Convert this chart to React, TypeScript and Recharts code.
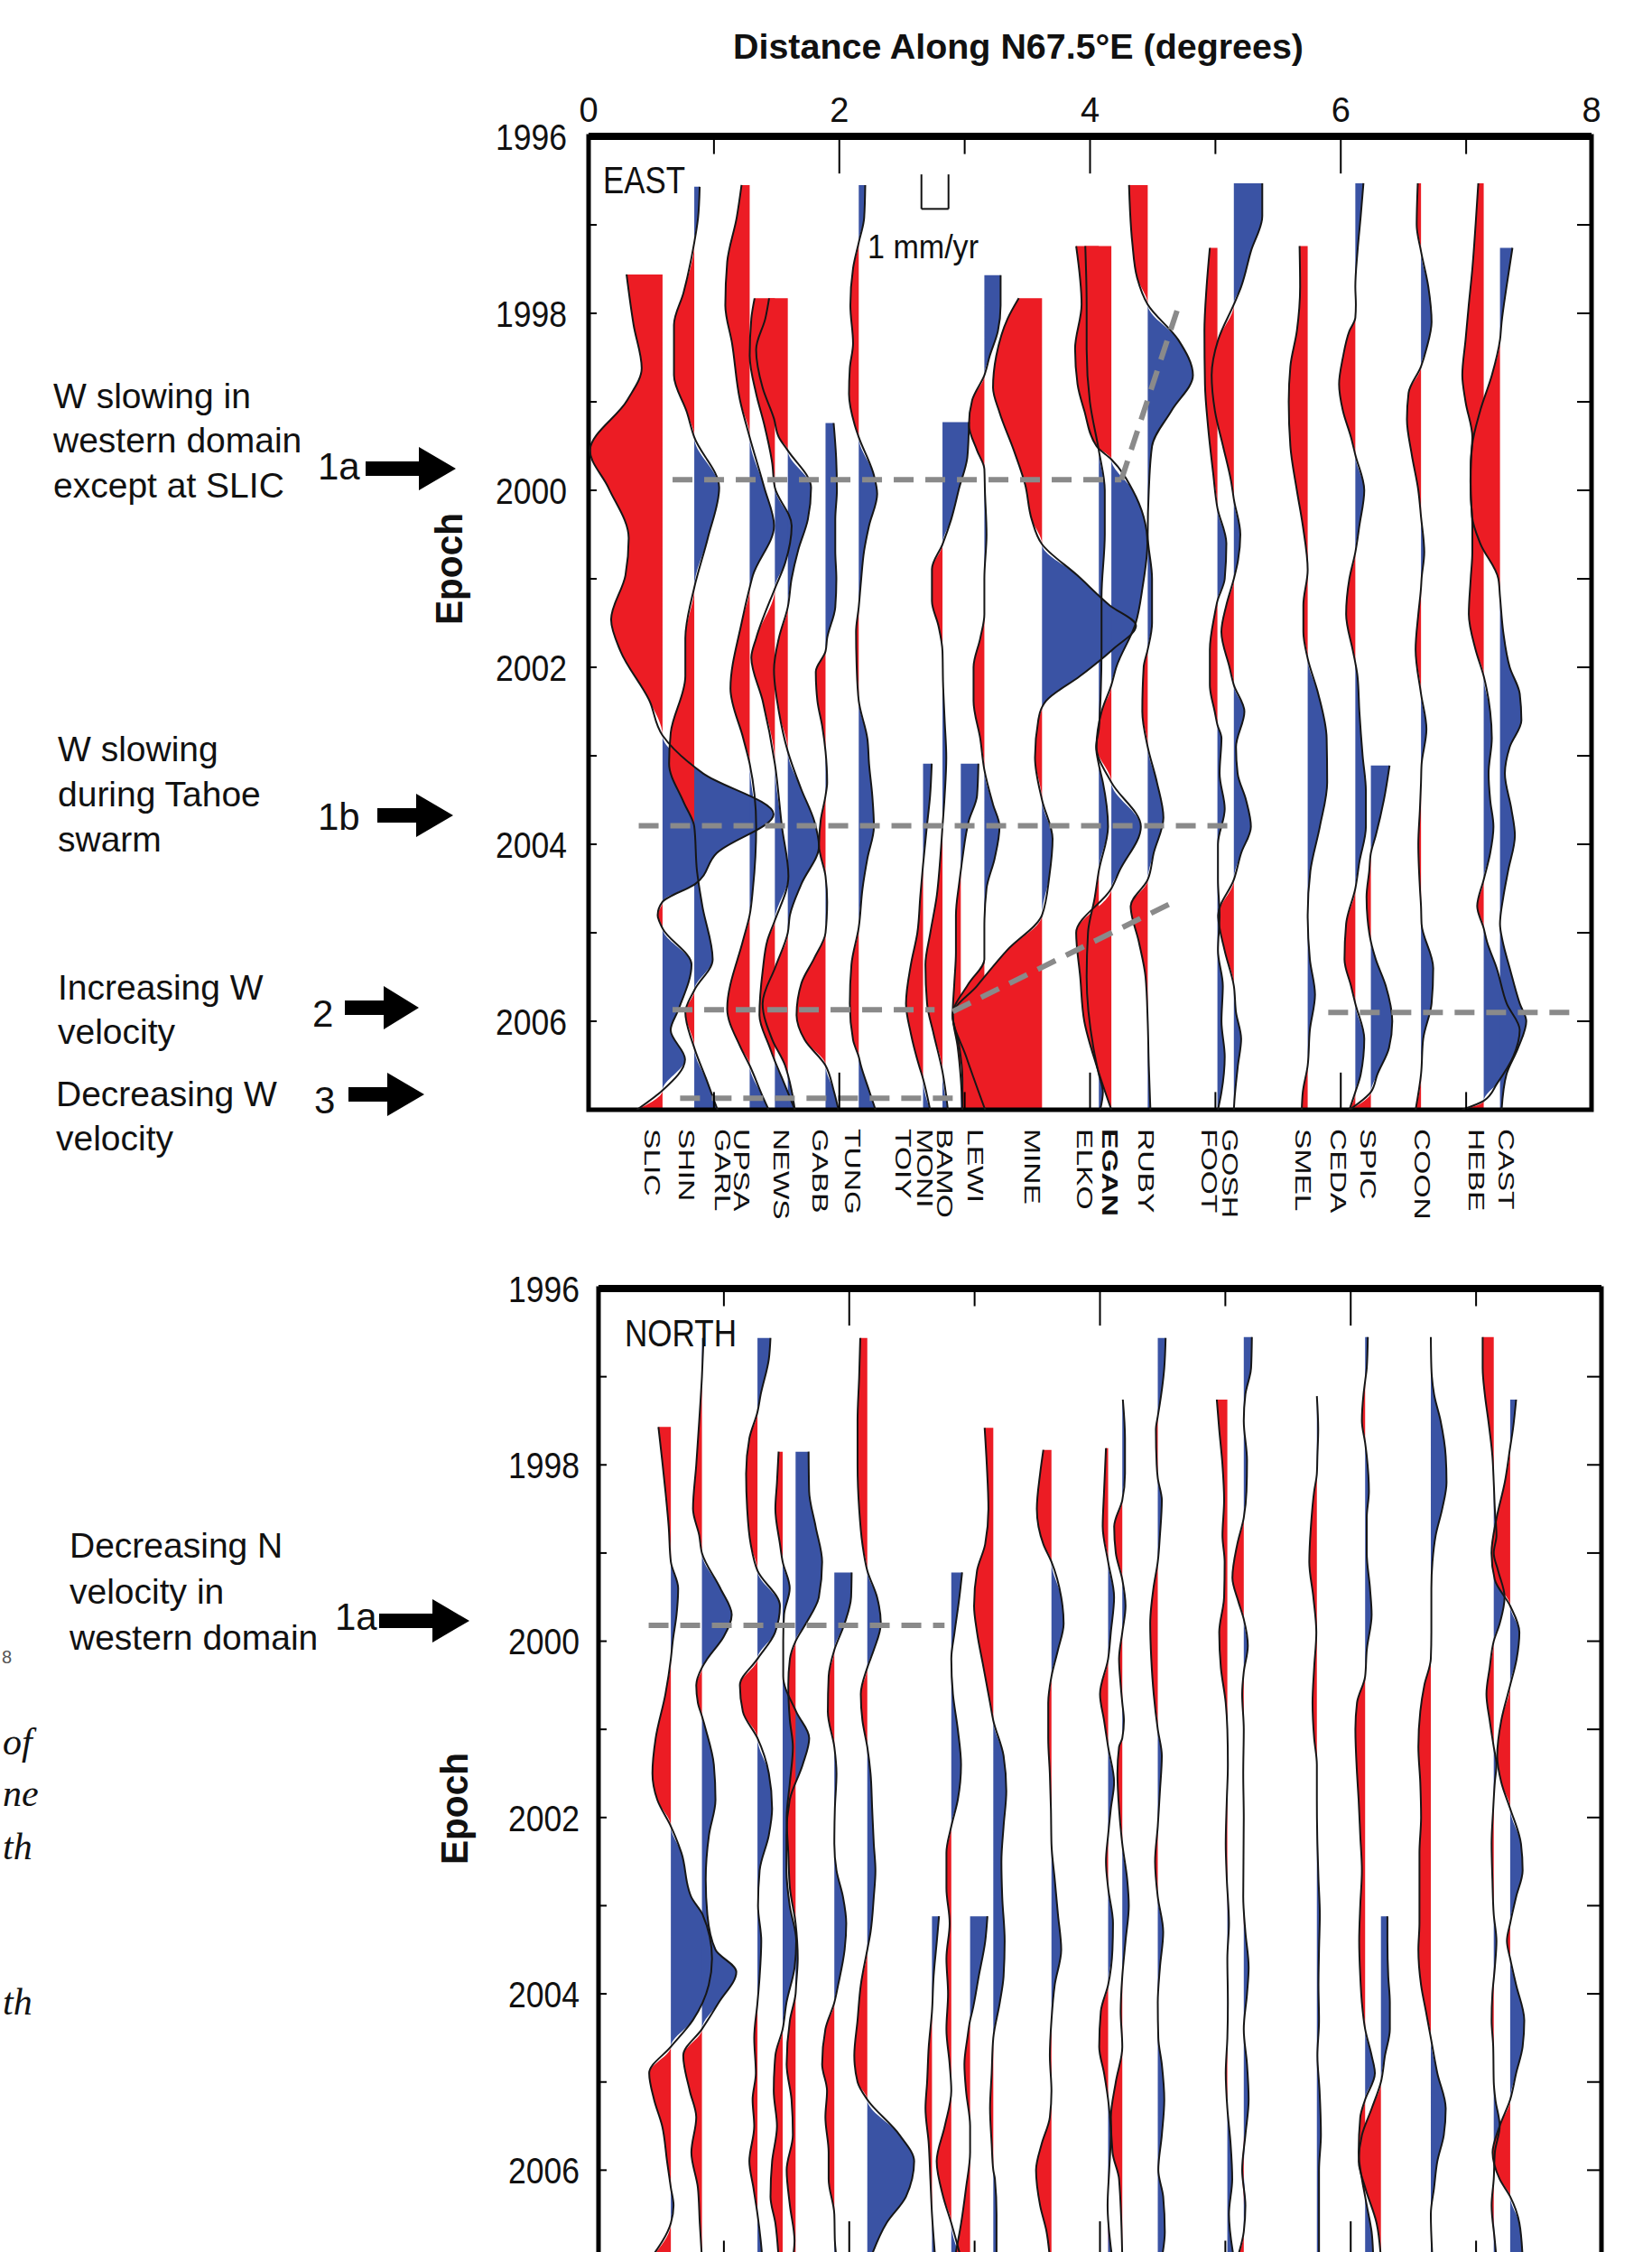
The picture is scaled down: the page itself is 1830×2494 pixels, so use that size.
import React from "react";
import {
  Area,
  ComposedChart,
  Line,
  ReferenceArea,
  ReferenceLine,
  XAxis,
  YAxis,
} from "recharts";

// width of 1 mm/yr on the distance axis, in degrees (the scale bar)
const MM = 0.216;

const STATIONS = ["SLIC", "SHIN", "GARL", "UPSA", "NEWS", "GABB", "TUNG", "TOIY", "MONI", "BAMO", "LEWI", "MINE", "ELKO", "EGAN", "RUBY", "FOOT", "GOSH", "SMEL", "CEDA", "SPIC", "COON", "HEBE", "CAST"];
const LABEL_POS = [0.51, 0.78, 1.07, 1.22, 1.54, 1.85, 2.11, 2.51, 2.68, 2.84, 3.09, 3.54, 3.96, 4.16, 4.45, 4.95, 5.12, 5.7, 5.98, 6.22, 6.65, 7.08, 7.32];

const EAST_BASE = [0.59, 0.843, 1.285, 1.486, 1.589, 1.89, 2.155, 2.668, 2.823, 2.969, 3.157, 3.617, 4.07, 4.17, 4.46, 5.016, 5.147, 5.736, 6.116, 6.24, 6.64, 7.14, 7.27];
const NORTH_BASE = [0.577, 0.825, 1.268, 1.469, 1.572, 1.881, 2.144, 2.66, 2.814, 2.964, 3.149, 3.613, 4.065, 4.178, 4.461, 5.016, 5.147, 5.73, 6.115, 6.241, 6.639, 7.141, 7.272];

// [epoch, residual velocity mm/yr]
const E_SLIC = [[1997.56,-1.33],[1998.13,-1.07],[1998.62,-0.77],[1998.98,-1.3],[1999.55,-2.68],[1999.97,-2.0],[2000.54,-1.25],[2000.96,-1.37],[2001.46,-1.9],[2001.82,-1.55],[2002.38,-0.48],[2002.77,0],[2003.2,1.5],[2003.66,4.1],[2004.1,2.0],[2004.45,1.2],[2004.65,0],[2004.8,-0.18],[2004.95,0],[2005.36,1.07],[2005.86,0.6],[2006.1,0.3],[2006.43,0.83],[2006.78,0],[2007,-0.95]];
const E_SHIN = [[1996.57,0.2],[1996.92,0.14],[1997.2,0],[1997.77,-0.4],[1998.13,-0.75],[1998.7,-0.75],[1999.12,-0.27],[1999.4,0],[1999.97,0.92],[2000.54,0.5],[2001.1,0],[2001.67,-0.33],[2002.1,-0.33],[2002.74,-0.87],[2003.09,-0.93],[2003.52,-0.4],[2003.8,0],[2004.3,0.1],[2004.7,0.3],[2005.3,0.68],[2005.65,0],[2005.9,-0.33],[2006.3,0],[2006.7,0.5],[2007,0.86]];
const E_GARL = [[1996.55,-0.3],[1996.92,-0.48],[1997.42,-0.83],[1997.91,-0.9],[1998.34,-0.65],[1998.98,-0.36],[1999.4,0],[1999.97,0.54],[2000.4,0.9],[2000.96,0.12],[2001.1,0],[2001.5,-0.3],[2002.24,-0.71],[2002.8,-0.24],[2003.09,0],[2003.8,0.24],[2004.5,0.12],[2004.8,0],[2005.08,-0.24],[2005.86,-0.83],[2006.28,-0.36],[2006.5,0],[2006.85,0.48],[2007,0.7]];
const E_UPSA = [[1997.83,-0.75],[1998.06,-0.87],[1998.48,-0.93],[1998.91,-0.69],[1999.26,-0.39],[1999.69,-0.1],[1999.97,0],[2000.4,0.62],[2000.82,0.38],[2001.11,0],[2001.67,-0.69],[2001.89,-0.87],[2002.38,-0.45],[2003.09,0],[2003.8,0.26],[2004.36,0.5],[2004.86,0],[2005.08,-0.27],[2005.43,-0.45],[2005.93,-0.57],[2006.28,-0.21],[2006.45,0],[2006.64,0.26],[2007,0.74]];
const E_NEWS = [[1997.83,-0.69],[1998.06,-0.83],[1998.41,-1.17],[1998.84,-0.93],[1999.19,-0.51],[1999.4,-0.33],[1999.55,0],[1999.97,0.86],[2000.33,0.74],[2000.68,0.38],[2001.0,0.14],[2001.32,0],[2001.67,-0.33],[2002.03,-0.51],[2002.5,-0.33],[2002.95,0],[2003.38,0.5],[2003.74,0.98],[2004.02,1.15],[2004.45,0.5],[2004.8,0.08],[2005.0,0],[2005.38,-0.45],[2005.8,-0.93],[2006.21,-0.57],[2006.5,-0.1],[2006.6,0],[2006.78,0.14],[2007,0.26]];
const E_GABB = [[1999.24,0.3],[1999.62,0.39],[2000.0,0.42],[2000.33,0.36],[2000.68,0.36],[2001.0,0.4],[2001.32,0.36],[2001.67,0.06],[2001.82,0],[2002.05,-0.36],[2002.38,-0.3],[2002.67,-0.12],[2002.95,0],[2003.3,0.06],[2003.45,0],[2003.73,-0.18],[2004.01,-0.24],[2004.36,0],[2004.65,0.06],[2005.0,0],[2005.29,-0.42],[2005.57,-0.89],[2005.93,-1.07],[2006.21,-0.77],[2006.5,0],[2006.78,0.3],[2007,0.48]];
const E_TUNG = [[1996.55,0.24],[1996.92,0.2],[1997.2,0],[1997.49,-0.21],[1997.91,-0.31],[1998.34,-0.21],[1998.62,-0.33],[1998.91,-0.36],[1999.26,-0.15],[1999.4,0],[1999.83,0.56],[2000.04,0.68],[2000.4,0.38],[2000.68,0.2],[2001.04,0.08],[2001.32,0],[2001.6,-0.1],[2001.96,-0.08],[2002.38,0],[2002.81,0.32],[2003.09,0.38],[2003.45,0.5],[2003.8,0.56],[2004.16,0.32],[2004.5,0.14],[2004.94,0],[2005.36,-0.27],[2005.8,-0.33],[2006.21,-0.21],[2006.4,0],[2006.5,0.08],[2006.78,0.38],[2007,0.62]];
const E_TOIY = [[2003.09,0.32],[2003.45,0.26],[2003.8,0.14],[2004.23,0],[2004.58,-0.1],[2005.0,-0.21],[2005.36,-0.45],[2005.8,-0.63],[2006.14,-0.45],[2006.5,-0.15],[2006.65,0],[2007,0.26]];
const E_MONI = [[1999.23,0.98],[1999.62,0.92],[1999.97,0.62],[2000.33,0.32],[2000.61,0],[2000.89,-0.39],[2001.25,-0.39],[2001.53,-0.15],[2001.82,0],[2002.17,0.02],[2002.6,0.08],[2003.02,0.14],[2003.45,0.08],[2003.8,0],[2004.23,-0.1],[2004.58,-0.21],[2005.0,-0.45],[2005.36,-0.63],[2005.8,-0.57],[2006.14,-0.33],[2006.57,0],[2007,0.2]];
const E_BAMO = [[2003.09,0.65],[2003.45,0.6],[2003.73,0.3],[2004.16,0.06],[2004.3,0],[2004.44,-0.06],[2004.8,-0.18],[2005.22,-0.18],[2005.57,-0.24],[2005.93,-0.3],[2006.28,-0.12],[2006.65,0],[2007,0.06]];
const E_LEWI = [[1997.57,0.6],[1997.91,0.6],[1998.2,0.5],[1998.48,0.2],[1998.7,0],[1998.98,-0.45],[1999.26,-0.57],[1999.55,-0.27],[1999.76,0],[2000.0,0.02],[2000.5,0.08],[2001.0,0],[2001.4,0],[2001.67,-0.15],[2002.0,-0.4],[2002.38,-0.4],[2002.81,-0.15],[2003.16,0],[2003.55,0.32],[2003.8,0.56],[2004.16,0.38],[2004.5,0.08],[2004.94,0],[2005.3,0],[2005.57,-0.57],[2005.93,-1.17],[2006.28,-0.93],[2006.65,-0.81],[2007,-0.81]];
const E_MINE = [[1997.83,-0.86],[1998.06,-1.27],[1998.48,-1.69],[1998.84,-1.81],[1999.12,-1.57],[1999.55,-1.04],[1999.94,-0.62],[2000.33,-0.38],[2000.61,0],[2000.96,1.3],[2001.3,2.5],[2001.53,3.47],[2001.8,2.6],[2002.1,1.4],[2002.38,0.15],[2002.45,0],[2002.6,-0.14],[2003.02,-0.26],[2003.5,0],[2003.94,0.39],[2004.36,0.27],[2004.8,0],[2005.2,-1.3],[2005.6,-2.4],[2005.93,-3.3],[2006.4,-2.8],[2007,-2.1]];
const E_ELKO = [[1997.24,-0.5],[1997.9,-0.45],[1998.4,-0.45],[1999.0,-0.33],[1999.55,0],[2000.0,0.22],[2000.5,0.22],[2001.2,0.1],[2001.8,0.1],[2002.5,0.04],[2002.7,0],[2002.9,-0.1],[2003.1,0],[2003.3,0.15],[2003.8,0.34],[2004.3,0],[2004.6,-0.15],[2005.0,-0.4],[2005.5,-0.45],[2006.3,-0.2],[2006.6,0],[2006.8,0.15],[2007,0.05]];
const E_EGAN = [[1997.24,-1.3],[1997.9,-1.1],[1998.4,-1.34],[1998.8,-1.25],[1999.1,-1.0],[1999.5,-0.55],[1999.65,0],[2000.0,0.79],[2000.6,1.33],[2001.1,1.15],[2001.5,0.9],[2002.0,0.18],[2002.2,0],[2002.5,-0.36],[2002.9,-0.55],[2003.3,0],[2003.8,1.09],[2004.3,0.3],[2004.5,0],[2005.0,-1.3],[2005.5,-1.15],[2006.0,-1.0],[2006.5,-0.55],[2007,0]];
const E_RUBY = [[1996.55,-0.69],[1997.2,-0.57],[1997.6,-0.39],[1997.9,0],[1998.3,1.13],[1998.7,1.67],[1999.1,0.88],[1999.5,0.16],[2000.0,0.04],[2000.5,0],[2001.0,0.16],[2001.5,0.16],[2001.8,0],[2002.0,-0.15],[2002.5,-0.2],[2002.9,0],[2003.3,0.34],[2003.7,0.58],[2004.1,0.22],[2004.4,0],[2004.7,-0.63],[2005.1,-0.33],[2005.5,-0.08],[2006.0,0],[2006.5,0.04],[2007,0.1]];
const E_FOOT = [[1997.26,-0.28],[1997.7,-0.4],[1998.2,-0.48],[1998.8,-0.46],[1999.3,-0.34],[1999.8,-0.16],[2000.2,0],[2000.6,0.33],[2001.0,0.27],[2001.25,0],[2001.4,-0.1],[2001.8,-0.28],[2002.2,-0.28],[2002.5,-0.1],[2002.65,0],[2002.8,0.15],[2003.2,0.08],[2003.6,0.27],[2004.0,0.02],[2004.4,0.02],[2004.8,0.08],[2005.2,0.02],[2005.6,0.2],[2006.0,0.15],[2006.4,0.27],[2006.8,0.15],[2007,0.02]];
const E_GOSH = [[1996.53,1.05],[1996.9,1.05],[1997.3,0.63],[1997.7,0.27],[1997.9,0],[1998.3,-0.58],[1998.7,-0.82],[1999.1,-0.7],[1999.5,-0.4],[1999.9,-0.1],[2000.1,0],[2000.5,0.24],[2000.8,0.15],[2001.0,0],[2001.3,-0.28],[2001.6,-0.46],[2002.0,-0.16],[2002.2,0],[2002.5,0.39],[2002.9,0.08],[2003.2,0.14],[2003.5,0.45],[2003.8,0.63],[2004.1,0.27],[2004.4,0],[2004.8,-0.58],[2005.2,-0.34],[2005.6,0],[2005.9,0.08],[2006.2,0.27],[2006.5,0.15],[2006.9,0.02],[2007,0]];
const E_SMEL = [[1997.24,-0.3],[1997.7,-0.28],[1998.2,-0.4],[1998.6,-0.64],[1999.0,-0.7],[1999.5,-0.64],[2000.0,-0.4],[2000.4,-0.18],[2000.9,0],[2001.3,-0.16],[2001.6,-0.16],[2001.9,0],[2002.3,0.39],[2002.8,0.7],[2003.3,0.72],[2003.8,0.45],[2004.3,0.1],[2004.8,0],[2005.3,0.08],[2005.7,0.27],[2006.1,0.08],[2006.5,0],[2006.8,-0.18],[2007,-0.22]];
const E_CEDA = [[1996.53,0.3],[1996.9,0.2],[1997.3,0.08],[1997.7,0],[1997.9,0.02],[1998.05,0],[1998.2,-0.22],[1998.5,-0.46],[1998.8,-0.6],[1999.1,-0.46],[1999.4,-0.16],[1999.6,0],[2000.0,0.33],[2000.4,0.15],[2000.7,0],[2001.0,-0.22],[2001.4,-0.34],[2001.8,-0.1],[2001.95,0],[2002.1,0.08],[2002.5,0.15],[2003.0,0.27],[2003.4,0.39],[2003.8,0.39],[2004.2,0.15],[2004.5,0],[2004.9,-0.34],[2005.3,-0.4],[2005.6,-0.16],[2005.8,0],[2006.2,0.33],[2006.6,0.2],[2006.8,0],[2007,-0.22]];
const E_SPIC = [[2003.11,0.69],[2003.5,0.48],[2003.9,0.18],[2004.1,0],[2004.3,-0.06],[2004.6,-0.16],[2005.0,-0.06],[2005.1,0],[2005.3,0.18],[2005.6,0.55],[2006.0,0.79],[2006.3,0.67],[2006.6,0.24],[2006.8,0],[2007,-0.79]];
const E_COON = [[1996.53,-0.12],[1997.0,-0.16],[1997.3,0],[1997.7,0.27],[1998.1,0.39],[1998.4,0.2],[1998.6,0],[1998.9,-0.46],[1999.2,-0.52],[1999.6,-0.34],[2000.0,-0.1],[2000.3,0],[2000.7,0.12],[2001.0,0.02],[2001.1,0],[2001.4,-0.1],[2001.8,-0.2],[2002.3,0],[2002.7,0.2],[2003.1,0.02],[2003.3,0],[2003.6,-0.04],[2004.0,-0.1],[2004.5,-0.04],[2004.7,0],[2004.9,0.02],[2005.4,0.45],[2005.8,0.39],[2006.2,0.08],[2006.6,0],[2007,-0.2]];
const E_HEBE = [[1996.53,-0.2],[1997.0,-0.3],[1997.5,-0.42],[1997.9,-0.55],[1998.3,-0.67],[1998.7,-0.79],[1999.0,-0.67],[1999.4,-0.42],[1999.7,-0.48],[2000.0,-0.48],[2000.4,-0.42],[2000.7,-0.42],[2001.0,-0.48],[2001.4,-0.55],[2001.8,-0.3],[2002.1,0],[2002.5,0.24],[2002.8,0.3],[2003.2,0.18],[2003.5,0.24],[2003.8,0.36],[2004.1,0.24],[2004.4,0],[2004.7,-0.24],[2004.95,0],[2005.1,0.12],[2005.4,0.48],[2005.8,0.85],[2006.1,1.33],[2006.4,1.09],[2006.7,0.5],[2006.9,0],[2007,-0.8]];
const E_CAST = [[1997.26,0.46],[1997.7,0.24],[1998.1,0.06],[1998.3,0],[1998.7,-0.3],[1999.1,-0.73],[1999.5,-1.03],[1999.9,-1.09],[2000.3,-1.03],[2000.6,-0.73],[2001.0,-0.06],[2001.2,0],[2001.6,0.12],[2002.0,0.36],[2002.3,0.73],[2002.6,0.79],[2002.9,0.36],[2003.2,0.18],[2003.6,0.42],[2003.9,0.55],[2004.3,0.3],[2004.6,0.12],[2004.9,0],[2005.1,0.1],[2005.4,0.36],[2005.8,0.73],[2006.0,0.97],[2006.3,0.67],[2006.6,0.24],[2007,0.06]];

const N_SLIC = [[1997.57,-0.46],[1997.95,-0.32],[1998.3,-0.2],[1998.7,-0.08],[1999.1,0],[1999.4,0.27],[1999.7,0.21],[2000.0,0.07],[2000.2,0],[2000.6,-0.2],[2001.1,-0.56],[2001.5,-0.68],[2001.8,-0.5],[2002.1,0],[2002.4,0.39],[2002.9,0.75],[2003.1,1.17],[2003.6,1.52],[2003.9,1.4],[2004.3,0.81],[2004.6,0],[2004.9,-0.8],[2005.2,-0.62],[2005.5,-0.32],[2005.9,-0.14],[2006.2,0],[2006.4,0.1],[2006.6,0],[2007,-0.74]];
const N_SHIN = [[1996.56,0.06],[1997.0,0],[1997.5,-0.1],[1998.0,-0.21],[1998.5,-0.33],[1998.8,-0.1],[1999.0,0],[1999.4,0.68],[1999.7,1.1],[1999.95,0.8],[2000.2,0.2],[2000.3,0],[2000.5,-0.21],[2000.7,-0.15],[2000.85,0],[2001.0,0.14],[2001.4,0.44],[2001.8,0.5],[2002.2,0.26],[2002.7,0.14],[2003.1,0.2],[2003.5,0.5],[2003.75,1.27],[2004.1,0.62],[2004.4,0],[2004.7,-0.69],[2005.1,-0.45],[2005.4,-0.21],[2005.8,-0.39],[2006.2,-0.15],[2006.6,-0.08],[2007,0]];
const N_GARL = [[1996.56,0.48],[1996.8,0.42],[1997.2,0.12],[1997.4,0],[1997.7,-0.3],[1998.1,-0.42],[1998.5,-0.38],[1998.9,-0.25],[1999.2,0],[1999.6,0.83],[1999.9,0.65],[2000.2,0],[2000.5,-0.65],[2000.8,-0.54],[2001.1,0],[2001.5,0.42],[2001.9,0.54],[2002.2,0.42],[2002.6,0.08],[2003.0,0.02],[2003.4,0.14],[2003.8,0.08],[2004.1,0],[2004.5,-0.12],[2004.9,-0.06],[2005.2,-0.18],[2005.5,-0.12],[2005.9,-0.3],[2006.2,-0.15],[2006.5,0],[2006.8,0.12],[2007,0.18]];
const N_UPSA = [[1997.85,-0.15],[1998.2,-0.21],[1998.5,-0.27],[1998.9,-0.1],[1999.1,0],[1999.4,0.26],[1999.7,0.05],[2000.0,0.02],[2000.4,0.02],[2000.8,0.5],[2001.1,0.98],[2001.4,0.74],[2001.8,0.26],[2002.2,0.14],[2002.6,0.14],[2003.0,0.26],[2003.4,0.5],[2003.7,0.44],[2004.1,0.14],[2004.4,0],[2004.7,-0.27],[2005.1,-0.33],[2005.5,-0.21],[2005.9,-0.39],[2006.3,-0.45],[2006.6,-0.27],[2007,-0.15]];
const N_NEWS = [[1997.85,0.48],[1998.3,0.5],[1998.7,0.74],[1999.1,0.98],[1999.5,0.86],[1999.8,0.38],[2000.0,0],[2000.2,-0.21],[2000.5,-0.27],[2000.9,-0.21],[2001.2,-0.1],[2001.6,-0.21],[2002.0,-0.33],[2002.4,-0.27],[2002.8,-0.21],[2003.2,0],[2003.6,0.08],[2003.9,0.02],[2004.0,0],[2004.3,-0.21],[2004.8,-0.33],[2005.2,-0.15],[2005.6,-0.1],[2006.0,-0.33],[2006.4,-0.21],[2006.8,-0.04],[2007,-0.1]];
const N_GABB = [[1999.22,0.64],[1999.5,0.62],[1999.8,0.38],[2000.1,0],[2000.4,-0.21],[2000.8,-0.24],[2001.2,0],[2001.5,0.08],[2001.9,0.02],[2002.3,0],[2002.6,0.08],[2002.9,0.32],[2003.2,0.44],[2003.5,0.38],[2003.9,0.14],[2004.1,0],[2004.4,-0.33],[2004.8,-0.45],[2005.1,-0.27],[2005.4,-0.33],[2005.8,-0.21],[2006.1,-0.21],[2006.5,0],[2006.8,0.02],[2007,0.08]];
const N_TUNG = [[1996.56,-0.26],[1997.0,-0.3],[1997.5,-0.36],[1998.0,-0.36],[1998.5,-0.3],[1998.9,-0.18],[1999.2,0],[1999.5,0.36],[1999.8,0.5],[2000.1,0.24],[2000.3,0],[2000.6,-0.24],[2000.9,-0.18],[2001.2,0],[2001.5,0.12],[2001.9,0.18],[2002.3,0.24],[2002.6,0.3],[2002.9,0.24],[2003.3,0.12],[2003.5,0],[2003.9,-0.24],[2004.3,-0.36],[2004.7,-0.48],[2005.0,-0.36],[2005.2,0],[2005.6,1.19],[2005.9,1.73],[2006.3,1.43],[2006.6,0.71],[2007,0.12]];
const N_TOIY = [[2003.12,0.26],[2003.4,0.18],[2003.8,0.06],[2004.2,0],[2004.6,-0.12],[2005.0,-0.18],[2005.3,-0.24],[2005.7,-0.12],[2006.1,-0.06],[2006.5,0],[2007,0.12]];
const N_MONI = [[1999.22,0.4],[1999.5,0.3],[1999.9,0.12],[2000.2,0],[2000.6,0.06],[2001.0,0.24],[2001.4,0.36],[2001.8,0.24],[2002.1,0],[2002.4,-0.18],[2002.8,-0.18],[2003.2,-0.06],[2003.6,-0.18],[2004.0,-0.12],[2004.4,-0.18],[2004.8,-0.06],[2005.1,0],[2005.5,-0.24],[2005.9,-0.54],[2006.3,-0.3],[2006.6,0],[2007,0.36]];
const N_BAMO = [[2003.12,0.64],[2003.4,0.56],[2003.8,0.32],[2004.2,0.08],[2004.3,0],[2004.5,-0.1],[2004.8,-0.21],[2005.1,-0.15],[2005.5,0],[2005.8,0],[2006.2,-0.15],[2006.6,-0.33],[2007,-0.57]];
const N_LEWI = [[1997.58,-0.32],[1998.0,-0.24],[1998.5,-0.18],[1998.9,-0.3],[1999.2,-0.6],[1999.6,-0.71],[1999.9,-0.6],[2000.3,-0.36],[2000.7,-0.12],[2000.9,0],[2001.3,0.38],[2001.7,0.48],[2002.1,0.38],[2002.5,0.3],[2002.9,0.33],[2003.4,0.42],[2003.8,0.38],[2004.1,0.24],[2004.5,0],[2004.9,-0.06],[2005.3,-0.12],[2005.7,-0.06],[2006.0,0],[2006.1,0.06],[2006.5,0.12],[2007,0.12]];
const N_MINE = [[1997.83,-0.3],[1998.1,-0.42],[1998.5,-0.54],[1998.9,-0.3],[1999.1,0],[1999.5,0.36],[1999.8,0.45],[2000.1,0.24],[2000.4,0],[2000.7,-0.12],[2001.1,-0.12],[2001.5,-0.06],[2001.9,-0.02],[2002.3,0],[2002.7,0.12],[2003.1,0.24],[2003.5,0.36],[2003.9,0.12],[2004.3,0],[2004.7,-0.06],[2005.1,0],[2005.4,-0.06],[2005.7,-0.36],[2006.0,-0.57],[2006.4,-0.42],[2006.7,-0.18],[2007,-0.06]];
const N_ELKO = [[1997.81,-0.08],[1998.3,-0.15],[1998.7,-0.2],[1999.1,0],[1999.5,0.22],[1999.9,0.1],[2000.2,0],[2000.6,-0.3],[2000.9,-0.15],[2001.2,0],[2001.6,0.22],[2001.9,0.1],[2002.2,0],[2002.5,-0.08],[2002.8,0],[2003.2,0.18],[2003.5,0.16],[2003.9,0],[2004.2,-0.27],[2004.6,-0.33],[2004.9,-0.15],[2005.2,0],[2005.6,0.1],[2006.0,0.04],[2006.4,-0.02],[2007,0.15]];
const N_EGAN = [[1997.26,0.02],[1997.7,0.1],[1998.1,0.1],[1998.4,0],[1998.7,-0.3],[1999.0,-0.24],[1999.3,0],[1999.6,0.12],[1999.9,0],[2000.2,-0.12],[2000.5,-0.06],[2000.7,0],[2000.9,0.06],[2001.1,0],[2001.2,-0.12],[2001.5,-0.18],[2001.9,-0.12],[2002.3,0],[2002.7,0.18],[2003.0,0.24],[2003.4,0.12],[2003.8,0],[2004.2,-0.06],[2004.6,0],[2005.0,-0.24],[2005.4,-0.42],[2005.8,-0.36],[2006.1,-0.12],[2007,0]];
const N_RUBY = [[1996.56,0.29],[1996.9,0.24],[1997.3,0.08],[1997.45,0],[1997.6,-0.07],[1998.0,-0.04],[1998.15,0],[1998.4,0.15],[1998.8,0.08],[1999.1,0],[1999.4,-0.16],[1999.8,-0.28],[2000.2,-0.24],[2000.6,-0.15],[2001.0,0],[2001.3,0.15],[2001.7,0.08],[2002.1,0],[2002.5,-0.1],[2002.9,0],[2003.3,0.2],[2003.7,0.08],[2004.1,0],[2004.5,0.02],[2004.8,0.15],[2005.2,0.24],[2005.6,0.15],[2006.0,0.02],[2006.3,0.2],[2006.7,0.26],[2007,0.15]];
const N_FOOT = [[1997.26,-0.39],[1997.6,-0.3],[1998.0,-0.18],[1998.4,-0.12],[1998.8,-0.18],[1999.1,-0.1],[1999.5,-0.12],[1999.9,-0.3],[2000.3,-0.24],[2000.7,-0.06],[2001.0,0],[2001.4,0.02],[2001.8,-0.02],[2002.3,-0.06],[2002.7,-0.02],[2003.2,0.06],[2003.6,0],[2004.1,0.02],[2004.5,0],[2004.9,-0.06],[2005.3,0],[2005.7,0.12],[2006.1,0.18],[2006.5,0.06],[2007,0.24]];
const N_GOSH = [[1996.55,0.3],[1996.9,0.27],[1997.2,0.06],[1997.5,0],[1997.95,0.12],[1998.3,0.1],[1998.6,0],[1998.9,-0.24],[1999.28,-0.42],[1999.55,-0.2],[1999.75,0],[2000.05,0.15],[2000.35,0],[2000.6,-0.06],[2001.0,0],[2001.5,-0.02],[2002.0,0],[2002.9,-0.02],[2003.3,0.06],[2003.7,0.18],[2004.0,0.12],[2004.4,0],[2004.8,0.12],[2005.2,0.18],[2005.6,0.06],[2006.0,-0.06],[2006.4,0.06],[2006.7,0],[2007,-0.24]];
const N_SMEL = [[1997.22,0],[1997.6,0.05],[1997.9,0.02],[1998.1,0],[1998.3,-0.1],[1998.7,-0.22],[1999.1,-0.28],[1999.5,-0.13],[1999.9,-0.02],[2000.3,-0.1],[2000.7,-0.16],[2001.1,-0.1],[2001.4,0],[2001.8,0],[2002.3,0.02],[2002.7,0.06],[2003.1,0.11],[2003.5,0.08],[2003.9,0.06],[2004.3,0.08],[2004.7,0.02],[2005.1,0.1],[2005.6,0.15],[2006.0,0.08],[2006.4,0.08],[2007,0.08]];
const N_CEDA = [[1996.55,0.1],[1996.9,0.06],[1997.05,0],[1997.2,-0.06],[1997.5,-0.12],[1997.75,0],[1997.9,0.06],[1998.3,0.14],[1998.6,0.06],[1999.0,0.06],[1999.4,0.18],[1999.7,0.24],[2000.1,0.06],[2000.4,0],[2000.7,-0.3],[2001.0,-0.36],[2001.5,-0.3],[2001.8,-0.24],[2002.2,-0.18],[2002.6,-0.12],[2003.0,-0.18],[2003.4,-0.22],[2003.8,-0.18],[2004.1,-0.12],[2004.4,0],[2004.7,0.24],[2004.9,0.36],[2005.2,0],[2005.4,-0.18],[2005.8,-0.24],[2006.1,-0.12],[2006.3,0],[2006.4,0.06],[2006.7,0.24],[2007,0.3]];
const N_SPIC = [[2003.12,0.24],[2003.4,0.24],[2003.8,0.27],[2004.1,0.33],[2004.4,0.33],[2004.7,0.15],[2005.0,0],[2005.3,-0.34],[2005.6,-0.7],[2005.9,-0.82],[2006.2,-0.58],[2006.6,-0.16],[2007,0]];
const N_COON = [[1996.55,0],[1996.9,0.02],[1997.2,0.12],[1997.5,0.36],[1997.9,0.55],[1998.2,0.58],[1998.5,0.42],[1998.8,0.18],[1999.1,0.06],[1999.4,0.02],[1999.9,0.02],[2000.2,0],[2000.5,-0.24],[2000.8,-0.39],[2001.2,-0.46],[2001.6,-0.39],[2002.0,-0.36],[2002.4,-0.42],[2002.8,-0.42],[2003.2,-0.42],[2003.5,-0.46],[2003.9,-0.36],[2004.2,-0.18],[2004.5,0],[2004.9,0.24],[2005.3,0.55],[2005.6,0.48],[2005.9,0.24],[2006.2,0.12],[2006.5,0],[2007,0.06]];
const N_HEBE = [[1996.55,-0.41],[1996.9,-0.41],[1997.2,-0.33],[1997.5,-0.2],[1997.9,-0.05],[1998.2,0],[1998.5,0.04],[1998.8,0.1],[1999.0,0],[1999.2,0.16],[1999.5,0.4],[1999.8,0.22],[2000.0,0],[2000.3,-0.15],[2000.6,-0.27],[2000.9,-0.15],[2001.2,0],[2001.4,0.1],[2001.6,0.04],[2001.9,-0.02],[2002.3,-0.08],[2002.7,-0.05],[2003.1,0],[2003.4,0.1],[2003.7,0.04],[2004.0,-0.05],[2004.3,-0.08],[2004.6,-0.02],[2005.0,0],[2005.2,0.06],[2005.5,0.22],[2005.8,0.04],[2006.1,0],[2006.4,-0.08],[2006.8,0.04],[2007,0.1]];
const N_CAST = [[1997.26,0.22],[1997.6,0.1],[1997.8,0],[1998.2,-0.2],[1998.6,-0.5],[1999.0,-0.69],[1999.3,-0.57],[1999.6,0],[1999.9,0.34],[2000.2,0.24],[2000.5,0],[2000.9,-0.33],[2001.3,-0.48],[2001.6,-0.33],[2001.9,0],[2002.3,0.4],[2002.6,0.46],[2002.9,0.22],[2003.2,0],[2003.4,-0.12],[2003.6,0],[2003.9,0.22],[2004.3,0.52],[2004.6,0.46],[2004.9,0.22],[2005.2,0],[2005.5,-0.39],[2005.8,-0.65],[2006.1,-0.39],[2006.3,0],[2006.6,0.34],[2007,0.46]];

const EAST_PTS = [E_SLIC, E_SHIN, E_GARL, E_UPSA, E_NEWS, E_GABB, E_TUNG, E_TOIY, E_MONI, E_BAMO, E_LEWI, E_MINE, E_ELKO, E_EGAN, E_RUBY, E_FOOT, E_GOSH, E_SMEL, E_CEDA, E_SPIC, E_COON, E_HEBE, E_CAST];
const NORTH_PTS = [N_SLIC, N_SHIN, N_GARL, N_UPSA, N_NEWS, N_GABB, N_TUNG, N_TOIY, N_MONI, N_BAMO, N_LEWI, N_MINE, N_ELKO, N_EGAN, N_RUBY, N_FOOT, N_GOSH, N_SMEL, N_CEDA, N_SPIC, N_COON, N_HEBE, N_CAST];

// interpreted trend lines [x1, epoch1, x2, epoch2]
const EAST_DASHES = [
  [0.67, 1999.88, 4.25, 1999.88],
  [4.25, 1999.88, 4.71, 1997.9],
  [0.4, 2003.79, 5.14, 2003.79],
  [0.67, 2005.87, 2.76, 2005.87],
  [2.905, 2005.89, 4.67, 2004.65],
  [0.73, 2006.87, 2.92, 2006.87],
  [5.9, 2005.9, 7.84, 2005.9],
];
const NORTH_DASHES = [[0.4, 1999.82, 2.76, 1999.82]];

const DIST_TICKS = [0, 2, 4, 6, 8];
const YEAR_TICKS = [1996, 1998, 2000, 2002, 2004, 2006];
const ALL_YEARS = [1997, 1998, 1999, 2000, 2001, 2002, 2003, 2004, 2005, 2006];
const MINOR_X = [1, 3, 5, 7];
const MAJOR_X = [2, 4, 6];

const RED = "#ec1c24";
const BLUE = "#3a53a4";
const FONT = "Liberation Sans, Arial, Helvetica, sans-serif";

const toRows = (base: number, pts: number[][]) =>
  pts.map(([t, v]) => ({
    t,
    neg: [base + Math.min(v, 0) * MM, base],
    pos: [base, base + Math.max(v, 0) * MM],
    x: base + v * MM,
  }));

const DistTick = ({ x, y, payload }: any) => (
  <text x={x} y={y} textAnchor="middle" fontFamily={FONT} fontSize={38} fill="#111">
    {payload.value}
  </text>
);

const YearTick = ({ x, y, payload }: any) => (
  <text x={x} y={y} dy="0.36em" textAnchor="end" fontFamily={FONT} fontSize={41} textLength={79} lengthAdjust="spacingAndGlyphs" fill="#111">
    {payload.value}
  </text>
);

// station names run top to bottom, a little stretched along the text
const StationTick = ({ x, y, index }: any) => (
  <text
    x={0}
    y={0}
    dy="0.36em"
    transform={`translate(${x},${y}) rotate(90) scale(1.4,1)`}
    fontFamily={FONT}
    fontSize={24}
    fontWeight={STATIONS[index] === "EGAN" ? 700 : 400}
    fill="#111"
  >
    {STATIONS[index]}
  </text>
);

const seg = (x1: number, y1: number, x2: number, y2: number) => [
  { x: x1, y: y1 },
  { x: x2, y: y2 },
];

const WigglePanel = ({ bases, pts, dashes, top, height, margin, east }: any) => (
  <div style={{ position: "absolute", left: 0, top }}>
    <ComposedChart layout="vertical" width={1830} height={height} margin={margin}>
      <XAxis
        type="number"
        orientation="top"
        domain={[0, 8]}
        ticks={DIST_TICKS}
        interval={0}
        height={60}
        hide={!east}
        axisLine={false}
        tickLine={false}
        tickSize={0}
        tickMargin={16}
        tick={DistTick}
        allowDataOverflow
      />
      {east && (
        <XAxis
          xAxisId="lab"
          type="number"
          orientation="bottom"
          domain={[0, 8]}
          ticks={LABEL_POS}
          interval={0}
          height={140}
          axisLine={false}
          tickLine={false}
          tickSize={0}
          tickMargin={21}
          tick={StationTick}
          allowDataOverflow
        />
      )}
      <YAxis
        type="number"
        dataKey="t"
        domain={[1996, 2007]}
        ticks={YEAR_TICKS}
        interval={0}
        width={90}
        axisLine={false}
        tickLine={false}
        tickSize={0}
        tickMargin={east ? 24 : 21}
        tick={YearTick}
        allowDataOverflow
      />
      {pts.map((p: number[][], i: number) => {
        const rows = toRows(bases[i], p);
        return (
          <React.Fragment key={i}>
            <Area data={rows} dataKey="neg" type="monotone" fill={RED} fillOpacity={1} stroke="none" dot={false} activeDot={false} isAnimationActive={false} />
            <Area data={rows} dataKey="pos" type="monotone" fill={BLUE} fillOpacity={1} stroke="none" dot={false} activeDot={false} isAnimationActive={false} />
            <Line data={rows} dataKey="x" type="monotone" stroke="#161616" strokeWidth={2} dot={false} activeDot={false} isAnimationActive={false} />
          </React.Fragment>
        );
      })}
      {dashes.map((d: number[], i: number) => (
        <ReferenceLine key={`d${i}`} segment={seg(d[0], d[1], d[2], d[3])} stroke="#8a8a8a" strokeWidth={6} strokeDasharray="22 13" ifOverflow="visible" />
      ))}
      {east && (
        <>
          <ReferenceLine segment={seg(2.655, 1996.43, 2.655, 1996.82)} stroke="#111" strokeWidth={2} />
          <ReferenceLine segment={seg(2.655, 1996.82, 2.655 + MM, 1996.82)} stroke="#111" strokeWidth={2} />
          <ReferenceLine segment={seg(2.655 + MM, 1996.43, 2.655 + MM, 1996.82)} stroke="#111" strokeWidth={2} />
        </>
      )}
      {ALL_YEARS.map((y) => (
        <ReferenceLine key={`l${y}`} segment={seg(0, y, 0.065, y)} stroke="#000" strokeWidth={2} />
      ))}
      {ALL_YEARS.map((y) => (
        <ReferenceLine key={`r${y}`} segment={seg(8 - 0.115, y, 8, y)} stroke="#000" strokeWidth={2} />
      ))}
      {MINOR_X.map((x) => (
        <ReferenceLine key={`tm${x}`} segment={seg(x, 1996, x, 1996.2)} stroke="#000" strokeWidth={2} />
      ))}
      {MAJOR_X.map((x) => (
        <ReferenceLine key={`tM${x}`} segment={seg(x, 1996, x, 1996.42)} stroke="#000" strokeWidth={2} />
      ))}
      {MINOR_X.map((x) => (
        <ReferenceLine key={`bm${x}`} segment={seg(x, 2007, x, 2006.8)} stroke="#000" strokeWidth={2} />
      ))}
      {MAJOR_X.map((x) => (
        <ReferenceLine key={`bM${x}`} segment={seg(x, 2007, x, 2006.58)} stroke="#000" strokeWidth={2} />
      ))}
      <ReferenceArea x1={0} x2={8} y1={1996} y2={2007} fill="none" fillOpacity={0} stroke="#000" strokeWidth={5} ifOverflow="visible" />
      <ReferenceLine y={1996} stroke="#000" strokeWidth={8} ifOverflow="visible" />
    </ComposedChart>
  </div>
);

const NOTES = [
  [59, 452, "W slowing in"],
  [59, 501, "western domain"],
  [59, 551, "except at SLIC"],
  [64, 843, "W slowing"],
  [64, 893, "during Tahoe"],
  [64, 943, "swarm"],
  [64, 1107, "Increasing W"],
  [64, 1156, "velocity"],
  [62, 1225, "Decreasing W"],
  [62, 1274, "velocity"],
  [77, 1725, "Decreasing N"],
  [77, 1776, "velocity in"],
  [77, 1827, "western domain"],
];
const TAGS = [
  [352, 531, "1a"],
  [352, 919, "1b"],
  [346, 1137, "2"],
  [348, 1233, "3"],
  [371, 1805, "1a"],
];
const ARROWS = [
  [405, 464, 505, 519],
  [418, 461, 502, 903],
  [382, 425, 464, 1116],
  [386, 429, 470, 1212],
  [420, 479, 520, 1795],
];
const FRAGMENTS = [
  [3, 1943, "of"],
  [3, 2000, "ne"],
  [3, 2059, "th"],
  [3, 2231, "th"],
];

const arrowPts = ([x1, xh, x2, y]: number[]) =>
  `${x1},${y - 8} ${xh},${y - 8} ${xh},${y - 24} ${x2},${y} ${xh},${y + 24} ${xh},${y + 8} ${x1},${y + 8}`;

const App = () => (
  <div style={{ position: "absolute", left: 0, top: 0, width: 1830, height: 2494, overflow: "hidden", background: "#fff" }}>
    <WigglePanel
      bases={EAST_BASE}
      pts={EAST_PTS}
      dashes={EAST_DASHES}
      top={0}
      height={1400}
      margin={{ top: 91, right: 67, bottom: 31, left: 562 }}
      east
    />
    <WigglePanel
      bases={NORTH_BASE}
      pts={NORTH_PTS}
      dashes={NORTH_DASHES}
      top={1300}
      height={1300}
      margin={{ top: 127, right: 56, bottom: 99, left: 573 }}
      east={false}
    />
    <svg width={1830} height={2494} style={{ position: "absolute", left: 0, top: 0, pointerEvents: "none" }}>
      <text x={812} y={65} fontFamily={FONT} fontWeight={700} fontSize={38} textLength={632} lengthAdjust="spacingAndGlyphs" fill="#111">
        Distance Along N67.5°E (degrees)
      </text>
      <text x={668} y={214} fontFamily={FONT} fontSize={43} textLength={91} lengthAdjust="spacingAndGlyphs" fill="#111">EAST</text>
      <text x={961} y={286} fontFamily={FONT} fontSize={37} textLength={123} lengthAdjust="spacingAndGlyphs" fill="#111">1 mm/yr</text>
      <text x={692} y={1491} fontFamily={FONT} fontSize={43} textLength={124} lengthAdjust="spacingAndGlyphs" fill="#111">NORTH</text>
      <text x={512} y={630} transform="rotate(-90 512 630)" textAnchor="middle" fontFamily={FONT} fontWeight={700} fontSize={42} textLength={124} lengthAdjust="spacingAndGlyphs" fill="#111">Epoch</text>
      <text x={518} y={2003} transform="rotate(-90 518 2003)" textAnchor="middle" fontFamily={FONT} fontWeight={700} fontSize={42} textLength={124} lengthAdjust="spacingAndGlyphs" fill="#111">Epoch</text>
      {NOTES.map(([x, y, s], i) => (
        <text key={`n${i}`} x={x as number} y={y as number} fontFamily={FONT} fontSize={39} fill="#111">{s}</text>
      ))}
      {TAGS.map(([x, y, s], i) => (
        <text key={`t${i}`} x={x as number} y={y as number} fontFamily={FONT} fontSize={42} fill="#111">{s}</text>
      ))}
      {ARROWS.map((a, i) => (
        <polygon key={`a${i}`} points={arrowPts(a)} fill="#000" />
      ))}
      <text x={2} y={1842} fontFamily={FONT} fontSize={20} fill="#555">8</text>
      {FRAGMENTS.map(([x, y, s], i) => (
        <text key={`f${i}`} x={x as number} y={y as number} fontFamily="Liberation Serif, DejaVu Serif, serif" fontStyle="italic" fontSize={42} fill="#111">{s}</text>
      ))}
    </svg>
  </div>
);

export default App;
